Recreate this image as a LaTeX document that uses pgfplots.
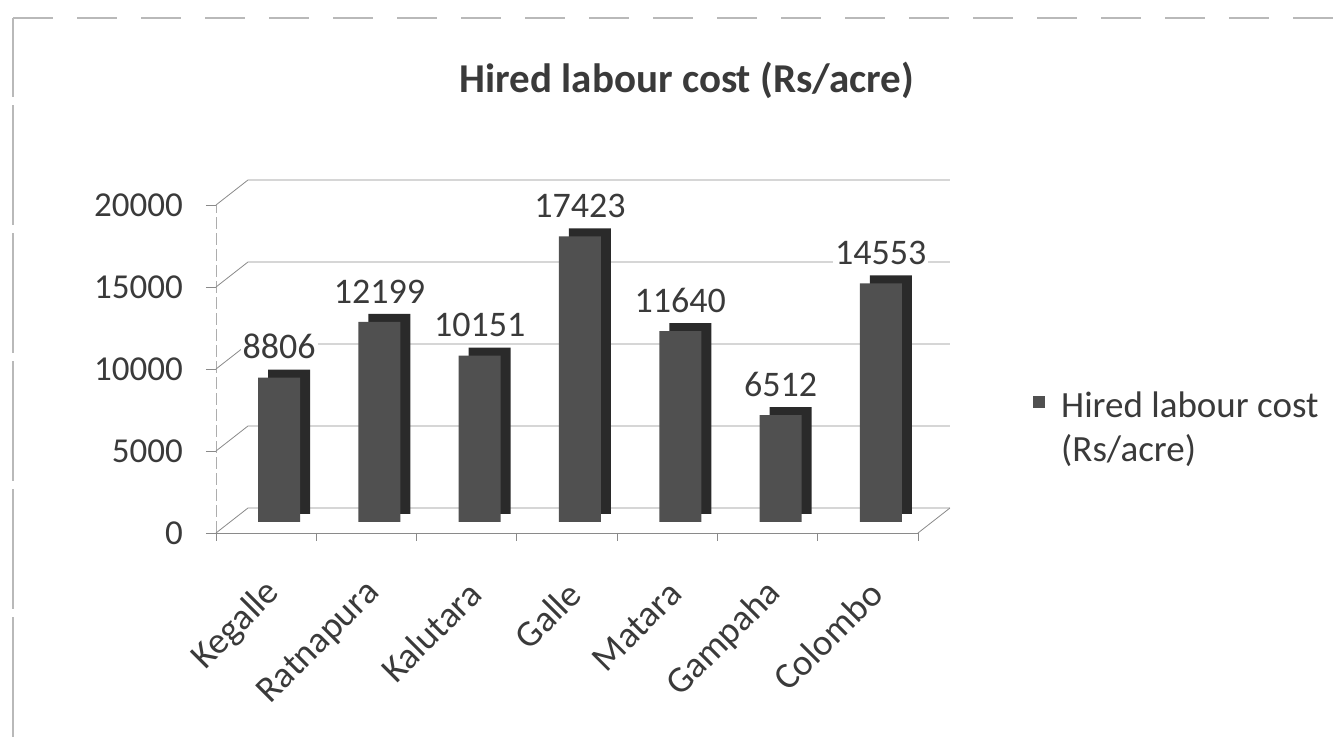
\documentclass[border=0pt]{standalone}
\usepackage{fontspec}
\setmainfont{Carlito}
\usepackage{pgfplots}
\pgfplotsset{compat=1.18}
\definecolor{txt}{HTML}{3A3A3A}
\definecolor{barfront}{HTML}{505050}
\definecolor{barside}{HTML}{2A2A2A}
\definecolor{gridc}{HTML}{8A8A8A}
\begin{document}
\begin{tikzpicture}[font=\fontsize{17.5}{21}\selectfont, text=txt]
\path[use as bounding box] (0,0) rectangle (670pt,368.5pt);
\draw[gray!55, line width=0.8pt, dash pattern=on 60pt off 4pt] (6.5pt,0) -- (6.5pt,359.5pt);
\draw[gray!55, line width=0.8pt, dash pattern=on 20pt off 12pt] (6.5pt,359.5pt) -- (670pt,359.5pt);
\node[font=\fontsize{20.5}{24}\selectfont\bfseries] at (343.5pt,328.5pt) {Hired labour cost (Rs/acre)};
\begin{axis}[
  at={(108pt,102pt)}, anchor=south west,
  scale only axis, width=351pt, height=164pt,
  xmin=-0.5, xmax=6.5, ymin=0, ymax=20000,
  clip=false,
  axis lines*=left,
  x axis line style={draw=gridc},
  y axis line style={draw=gridc!70, dash pattern=on 6pt off 2pt},
  ytick={0,5000,10000,15000,20000},
  scaled y ticks=false,
  yticklabel style={/pgf/number format/1000 sep={}, /pgf/number format/assume math mode=true, xshift=-8pt},
  ytick style={draw=gridc},
  tick align=outside,
  major tick length=5pt,
  xtick={0,1,2,3,4,5,6},
  xticklabels={Kegalle,Ratnapura,Kalutara,Galle,Matara,Gampaha,Colombo},
  xtick style={draw=none},
  xticklabel style={font=\fontsize{18.5}{22}\selectfont, xshift=6.5pt, yshift=-20pt, rotate=45, anchor=east},
  legend style={at={(axis description cs:1.155,0.32)}, anchor=west, draw=none, fill=none,
    nodes={align=left, font=\fontsize{18.5}{22}\selectfont}},
  legend cell align=left,
  legend image code/.code={\fill[barfront] (0pt,4.5pt) rectangle (6pt,10.5pt); \path (12pt,4.5pt);},
]
% back wall gridlines and floor
\pgfplotsinvokeforeach{0,5000,10000,15000,20000}{
  \draw[gridc] (axis cs:-0.5,#1) -- ++(16pt,12.5pt) -- ([xshift=16pt,yshift=12.5pt]axis cs:6.5,#1);
}
\draw[gridc] (axis cs:6.5,0) -- ++(16pt,12.5pt);
\pgfplotsinvokeforeach{-0.5,0.5,1.5,2.5,3.5,4.5,5.5,6.5}{
  \draw[gridc] (axis cs:#1,0) -- ([yshift=-4pt]axis cs:#1,0);
}
\addplot[ybar, bar shift=0pt, bar width=21pt, fill=barside, draw=none, xshift=11.5pt, yshift=9.5pt, forget plot]
  coordinates {(0,8806) (1,12199) (2,10151) (3,17423) (4,11640) (5,6512) (6,14553)};
\addplot[ybar, bar shift=0pt, bar width=21pt, fill=barfront, draw=none, xshift=6.5pt, yshift=5.5pt,
  nodes near coords, nodes near coords style={fill=white, inner sep=1pt, anchor=south, yshift=8pt, text=txt,
  font=\fontsize{18}{21}\selectfont,
  /pgf/number format/1000 sep={}, /pgf/number format/assume math mode=true}]
  coordinates {(0,8806) (1,12199) (2,10151) (3,17423) (4,11640) (5,6512) (6,14553)};
\addlegendentry{Hired labour cost\\(Rs/acre)}
\end{axis}
\end{tikzpicture}
\end{document}
